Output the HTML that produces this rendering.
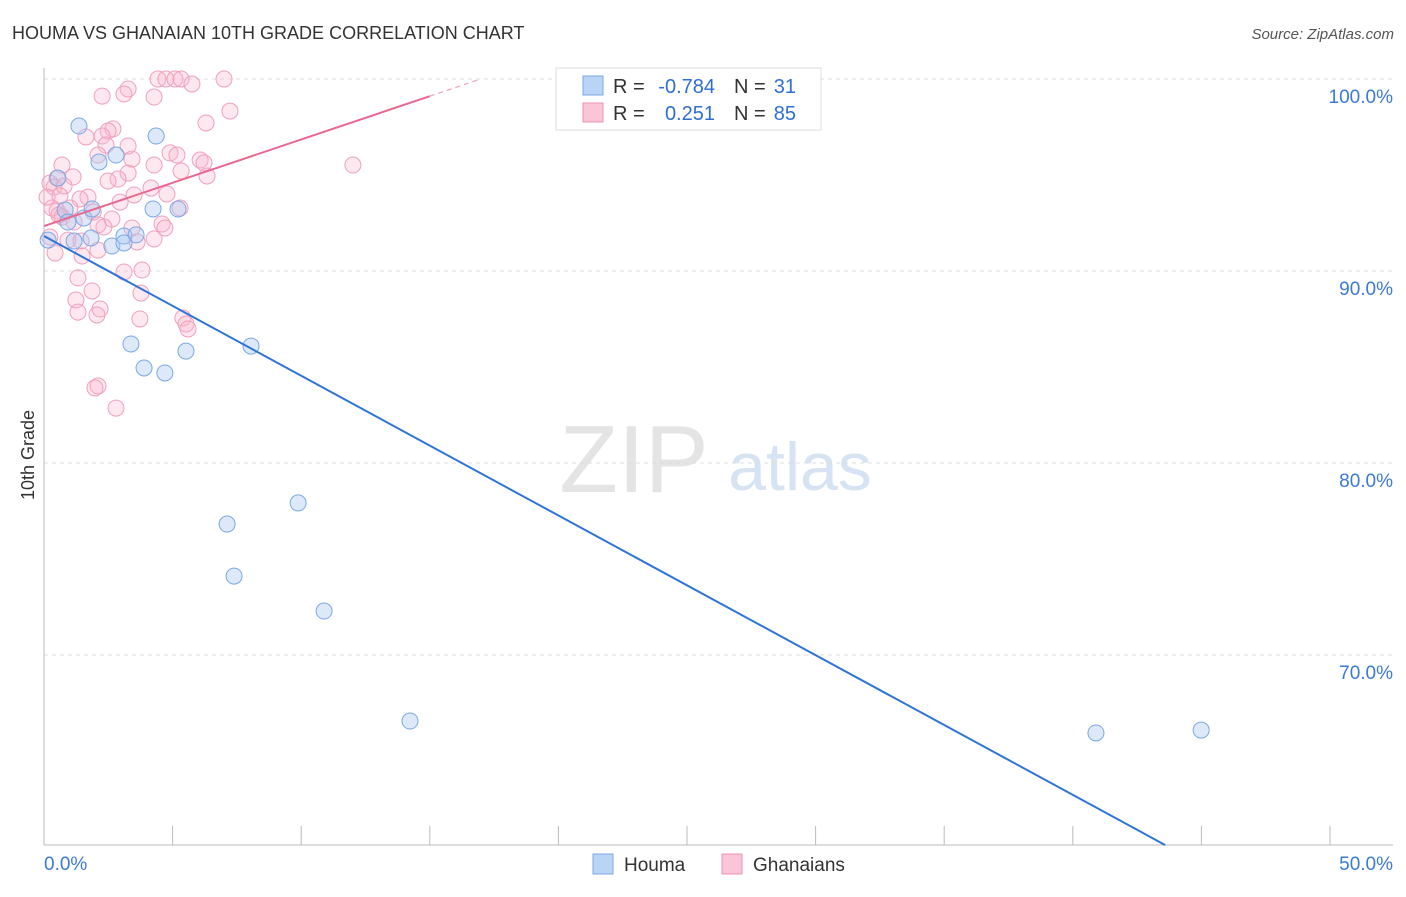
<!DOCTYPE html>
<html><head><meta charset="utf-8"><style>
body{margin:0;background:#fff;font-family:"Liberation Sans",sans-serif;}
svg text{font-family:"Liberation Sans",sans-serif;}
</style></head><body>
<svg id="chart" width="1406" height="892">
<text x="12" y="39" font-size="18" fill="#333">HOUMA VS GHANAIAN 10TH GRADE CORRELATION CHART</text>
<text x="1394" y="39" font-size="15" fill="#555" font-style="italic" text-anchor="end">Source: ZipAtlas.com</text>
<text x="634" y="492" font-size="96" fill="#e4e4e4" font-family="Liberation Serif" text-anchor="middle">ZIP</text>
<text x="800" y="490" font-size="68" fill="#d6e3f3" text-anchor="middle">atlas</text>
<text transform="translate(34,455) rotate(-90)" font-size="18" fill="#333" text-anchor="middle">10th Grade</text>
<g id="grid"></g><g id="marks"></g>
<g>
<rect x="556" y="68" width="265" height="62" fill="#fff" stroke="#ddd"/>
<rect x="583" y="76" width="20" height="19" fill="#b9d4f5" stroke="#7aaae6"/>
<rect x="583" y="103" width="20" height="19" fill="#fac5d6" stroke="#ef93b0"/>
<text x="613" y="93" font-size="20" fill="#333">R =</text>
<text x="715" y="93" font-size="20" fill="#2f6fd1" text-anchor="end">-0.784</text>
<text x="734" y="93" font-size="20" fill="#333">N =</text>
<text x="796" y="93" font-size="20" fill="#2f6fd1" text-anchor="end">31</text>
<text x="613" y="120" font-size="20" fill="#333">R =</text>
<text x="715" y="120" font-size="20" fill="#2f6fd1" text-anchor="end">0.251</text>
<text x="734" y="120" font-size="20" fill="#333">N =</text>
<text x="796" y="120" font-size="20" fill="#2f6fd1" text-anchor="end">85</text>
</g>
<g>
<rect x="593" y="854" width="20" height="20" fill="#b9d4f5" stroke="#7aaae6"/>
<text x="624" y="871" font-size="19" fill="#333">Houma</text>
<rect x="722" y="854" width="20" height="20" fill="#fac5d6" stroke="#ef93b0"/>
<text x="753" y="871" font-size="19" fill="#333">Ghanaians</text>
</g>
</svg>
<script>
const yTicks=[100,90,80,70];
const xTickLabels=["0.0%","50.0%"];
const houmaX=[1.36,4.36,2.80,2.14,0.54,0.82,1.55,4.24,5.21,1.83,3.11,3.58,2.64,3.11,1.17,0.16,3.38,5.52,8.05,3.89,4.70,7.12,9.88,7.39,10.89,14.23,40.90,44.99,0.93,1.87];
const houmaY=[97.55,97.03,96.04,95.68,94.84,93.18,92.76,93.23,93.23,91.72,91.82,91.88,91.30,91.46,91.56,91.61,86.20,85.83,86.09,84.95,84.69,76.82,77.92,74.11,72.29,66.56,65.94,66.09,92.55,93.23];
const ghX=[4.43,4.74,5.09,5.33,7.00,5.75,3.27,2.26,3.11,4.28,7.23,6.30,2.68,2.49,2.26,1.63,2.41,2.10,3.42,4.90,5.17,6.07,6.22,12.01,0.70,5.33,6.34,3.27,2.88,2.49,1.13,0.51,0.23,0.39,0.78,4.16,4.78,3.50,1.71,1.40,2.96,0.31,1.01,0.51,1.91,0.70,2.64,1.17,3.42,4.59,4.70,2.33,2.10,0.23,0.93,1.44,3.62,4.28,2.10,0.43,1.48,3.81,3.11,1.32,1.87,3.77,1.24,2.18,1.32,2.06,3.73,5.40,5.52,5.60,2.10,1.98,2.80,4.28,0.12,0.62,3.27,5.29,0.58];
const ghY=[100,100,100,100,100,99.74,99.48,99.11,99.22,99.06,98.33,97.71,97.40,97.29,97.03,96.98,96.56,96.04,95.83,96.15,96.04,95.78,95.63,95.52,95.52,95.21,94.95,95.10,94.79,94.69,94.90,94.84,94.58,94.37,94.43,94.32,94.01,93.96,93.85,93.75,93.59,93.28,93.28,93.13,93.07,92.81,92.71,92.55,92.24,92.45,92.24,92.29,92.40,91.77,91.61,91.56,91.51,91.67,91.09,90.94,90.78,90.05,89.95,89.64,88.96,88.85,88.49,88.02,87.86,87.71,87.50,87.55,87.24,86.98,84.01,83.91,82.86,95.52,93.85,93.91,96.51,93.28,92.91];
const houmaFit=[91.82,-0.7276];
const ghFit=[92.34,0.451];
const X=v=>44+v*25.72, Y=v=>79+(100-v)*19.2;
const NS="http://www.w3.org/2000/svg";
const grid=document.getElementById('grid'), marks=document.getElementById('marks');
function mk(p,tag,a){const e=document.createElementNS(NS,tag);for(const k in a)e.setAttribute(k,a[k]);p.appendChild(e);return e;}
yTicks.forEach(t=>{
 const l=mk(grid,'line',{x1:44,x2:1393,y1:Y(t),y2:Y(t),stroke:'#ddd','stroke-dasharray':'4,4'});
 
 
 const tx=mk(grid,'text',{x:1393,y:Y(t)+24,'font-size':19,fill:'#3b7ad6','text-anchor':'end'});tx.textContent=t.toFixed(1)+'%';
 
 
});
const ax=mk(grid,'line',{x1:44,x2:1393,y1:845,y2:845,stroke:'#bbb'});


const ay=mk(grid,'line',{x1:44,x2:44,y1:68,y2:845,stroke:'#bbb'});


for(let i=0;i<=10;i++){const t=mk(grid,'line',{x1:X(i*5),x2:X(i*5),y1:826,y2:845,stroke:'#bbb'});
 
 }
xTickLabels.forEach((s,i)=>{const t=mk(grid,'text',{x:i?1393:44,y:870,'font-size':19,fill:'#3b7ad6','text-anchor':i?'end':'start'});t.textContent=s;
 
 });
ghX.forEach((x,i)=>{const c=mk(marks,'circle',{cx:X(x),cy:Y(ghY[i]),r:8,fill:'rgba(248,180,202,0.3)',stroke:'#f0a0bb','stroke-width':1});
 
 });
houmaX.forEach((x,i)=>{const c=mk(marks,'circle',{cx:X(x),cy:Y(houmaY[i]),r:8,fill:'rgba(170,200,240,0.4)',stroke:'#7aa8e4','stroke-width':1});
 
 });
const x1=(60.1-houmaFit[0])/houmaFit[1];
const bl=mk(marks,'line',{x1:X(0),y1:Y(houmaFit[0]),x2:X(x1),y2:Y(60.1),stroke:'#2f74d8','stroke-width':2});


const pl=mk(marks,'line',{x1:X(0),y1:Y(ghFit[0]),x2:X(15),y2:Y(ghFit[0]+15*ghFit[1]),stroke:'#e8688f','stroke-width':2});


const pd=mk(marks,'line',{x1:X(15),y1:Y(ghFit[0]+15*ghFit[1]),x2:X(17),y2:Y(ghFit[0]+17*ghFit[1]),stroke:'#f0a0b8','stroke-width':1.2,'stroke-dasharray':'5,4'});


</script>
</body></html>
